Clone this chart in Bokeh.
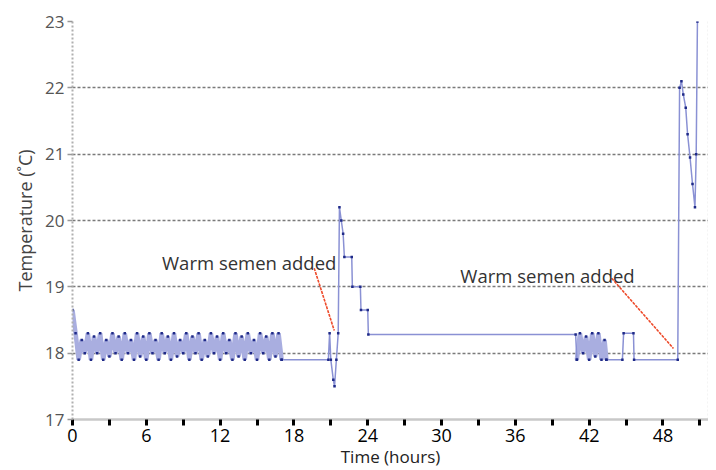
from bokeh.plotting import figure
from bokeh.models import FixedTicker, LinearAxis, Grid, Range1d
from bokeh.core.properties import value
from bokeh.embed import file_html
from bokeh.resources import INLINE

# ---- data (hours, temperature in deg C) ----
# rapid logging fluctuation, 0-17 h
osc1_hours = [0.0, 0.25, 0.5, 0.75, 1.0, 1.25, 1.5, 1.75, 2.0, 2.25, 2.5, 2.75, 3.0, 3.25, 3.5, 3.75,
              4.0, 4.25, 4.5, 4.75, 5.0, 5.25, 5.5, 5.75, 6.0, 6.25, 6.5, 6.75, 7.0, 7.25, 7.5, 7.75,
              8.0, 8.25, 8.5, 8.75, 9.0, 9.25, 9.5, 9.75, 10.0, 10.25, 10.5, 10.75, 11.0, 11.25, 11.5, 11.75,
              12.0, 12.25, 12.5, 12.75, 13.0, 13.25, 13.5, 13.75, 14.0, 14.25, 14.5, 14.75, 15.0, 15.25,
              15.5, 15.75, 16.0, 16.25, 16.5, 16.75, 17.0]
osc1_temps = [18.65, 18.3, 17.9, 18.2, 18.0, 18.3, 17.9, 18.25, 18.0, 18.3, 17.9, 18.2, 17.95, 18.3, 18.0, 18.25,
              17.9, 18.3, 18.0, 18.2, 17.9, 18.3, 17.95, 18.25, 17.9, 18.3, 18.0, 18.2, 17.9, 18.3, 18.0, 18.25,
              17.9, 18.3, 17.95, 18.2, 18.0, 18.3, 17.9, 18.25, 18.0, 18.3, 17.9, 18.2, 17.95, 18.3, 18.0, 18.25,
              17.9, 18.3, 18.0, 18.2, 17.9, 18.3, 17.95, 18.25, 17.9, 18.3, 18.0, 18.2, 17.9, 18.3,
              18.0, 18.25, 17.9, 18.3, 17.95, 18.3, 17.9]
# first addition of warm semen, 17-41 h
mid_hours = [17.0, 20.8, 20.9, 21.0, 21.2, 21.3, 21.45, 21.6, 21.7, 21.85, 22.0, 22.1, 22.7, 22.75, 23.4,
             23.45, 24.0, 24.05, 40.9, 41.0]
mid_temps = [17.9, 17.9, 18.3, 17.9, 17.6, 17.5, 17.9, 18.3, 20.2, 20.0, 19.8, 19.45, 19.45, 19.0, 19.0,
             18.65, 18.65, 18.28, 18.28, 17.9]
# second fluctuation, 41-43.4 h
osc2_hours = [41.0, 41.25, 41.5, 41.75, 42.0, 42.25, 42.5, 42.75, 43.0, 43.25, 43.4]
osc2_temps = [17.9, 18.3, 18.0, 18.25, 17.9, 18.3, 17.95, 18.3, 17.9, 18.2, 17.9]
# second addition, 43.4 h to end
end_hours = [43.4, 44.7, 44.8, 45.6, 45.65, 49.2, 49.35, 49.5, 49.65, 49.85, 50.0, 50.2, 50.4, 50.6,
             50.7, 50.8]
end_temps = [17.9, 17.9, 18.3, 18.3, 17.9, 17.9, 22.0, 22.1, 21.9, 21.7, 21.3, 20.95, 20.55, 20.2,
             21.0, 23.0]

x_ticks = [0, 6, 12, 18, 24, 30, 36, 42, 48]
x_minor = [3, 9, 15, 21, 27, 33, 39, 45, 51]
y_ticks = [17, 18, 19, 20, 21, 22, 23]
y_grid = [18, 19, 20, 21, 22]
y_top = [23]

note_text = ["Warm semen added", "Warm semen added"]
note_x = [21.45, 45.7]
note_y = [19.37, 19.17]
arrow_x0 = [19.65, 43.83]
arrow_y0 = [19.28, 19.13]
arrow_x1 = [21.28, 48.85]
arrow_y1 = [18.34, 18.07]

# ---- figure ----
p = figure(width=708, height=470, output_backend="svg", toolbar_location=None,
           x_range=Range1d(0, 51.7), y_range=Range1d(17, 23),
           min_border_left=72, min_border_right=0, min_border_top=21, min_border_bottom=51)
p.outline_line_color = None
p.background_fill_color = "white"

# grids
p.xgrid.visible = False
p.ygrid.ticker = FixedTicker(ticks=y_grid)
p.ygrid.grid_line_color = "#7a7a7a"
p.ygrid.grid_line_dash = "3 2"
p.ygrid.grid_line_width = 1.5
top_grid = Grid(dimension=1, ticker=FixedTicker(ticks=y_top), grid_line_color="#9a9a9a", grid_line_width=1.5)
p.add_layout(top_grid)

# x axis
xa = p.xaxis[0]
xa.ticker = FixedTicker(ticks=x_ticks, minor_ticks=x_minor)
xa.axis_line_color = "#c8c8c8"
xa.axis_line_width = 2.5
xa.major_tick_in = 0
xa.major_tick_out = 6
xa.major_tick_line_color = "black"
xa.major_tick_line_width = 3
xa.minor_tick_in = 0
xa.minor_tick_out = 6
xa.minor_tick_line_color = "black"
xa.minor_tick_line_width = 3
xa.major_label_text_font = "Open Sans"
xa.major_label_text_font_size = "18px"
xa.major_label_text_color = "black"
xa.major_label_standoff = 3
xa.axis_label = "Time (hours)"
xa.axis_label_text_font = "Open Sans"
xa.axis_label_text_font_style = "normal"
xa.axis_label_text_font_size = "17px"
xa.axis_label_text_color = "#222222"
xa.axis_label_standoff = 0

# y axis
ya = p.yaxis[0]
ya.ticker = FixedTicker(ticks=y_ticks)
ya.axis_line_color = "#b0b0b0"
ya.axis_line_width = 2
ya.axis_line_dash = "2 2"
ya.major_tick_in = 0
ya.major_tick_out = 5
ya.major_tick_line_color = "#999999"
ya.major_tick_line_width = 1.5
ya.minor_tick_line_color = None
ya.major_label_text_font = "Open Sans"
ya.major_label_text_font_size = "17px"
ya.major_label_text_color = "#555555"
ya.major_label_standoff = 3
ya.axis_label = "Temperature (˚C)"
ya.axis_label_text_font = "Open Sans"
ya.axis_label_text_font_style = "normal"
ya.axis_label_text_font_size = "18px"
ya.axis_label_text_color = "#444444"
ya.axis_label_standoff = 5

# right frame edge
ra = LinearAxis(ticker=FixedTicker(ticks=[]), axis_line_color="#d0d0d0", axis_line_dash="2 2",
                axis_line_width=1.5, major_tick_line_color=None, minor_tick_line_color=None,
                major_label_text_font_size="0px")
p.add_layout(ra, "right")

# data: fluctuating stretches drawn as a dense band, the rest as a thin trace
for hx, ty in [(osc1_hours, osc1_temps), (osc2_hours, osc2_temps)]:
    p.line(hx, ty, line_color="#a9aee0", line_width=4.5)
for hx, ty in [(mid_hours, mid_temps), (end_hours, end_temps)]:
    p.line(hx, ty, line_color="#8a91d4", line_width=1.5)
for hx, ty in [(osc1_hours, osc1_temps), (mid_hours, mid_temps), (osc2_hours, osc2_temps), (end_hours, end_temps)]:
    p.scatter(hx, ty, marker="square", size=2.5, fill_color="#1f2a88", line_color=None)

# annotations
p.segment(x0=arrow_x0, y0=arrow_y0, x1=arrow_x1, y1=arrow_y1, line_color="#ee4a2a", line_width=1.6,
          line_dash="3 1")
p.text(x=note_x, y=note_y, text=note_text, text_align="right", text_baseline="alphabetic",
       text_font=value("Open Sans"), text_font_size="18.5px", text_color="#333333")

open("out.html", "w").write(file_html(p, INLINE))
